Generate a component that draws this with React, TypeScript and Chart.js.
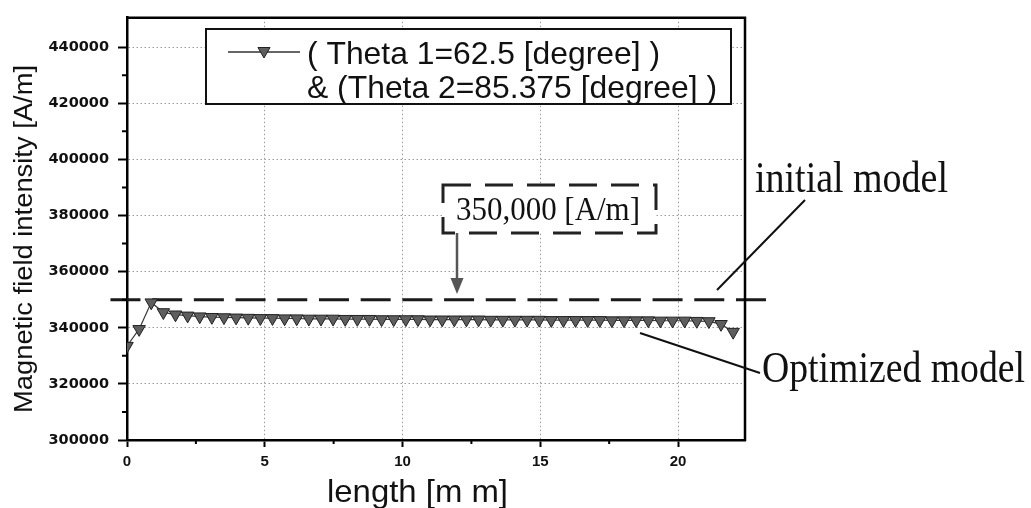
import React, { useEffect, useRef } from 'react';
import { Chart, registerables } from 'chart.js';

Chart.register(...registerables);

// ---------- data ----------
const lengthMm = [
  0, 0.44, 0.88, 1.32, 1.76, 2.2, 2.64, 3.08, 3.52, 3.96,
  4.4, 4.84, 5.28, 5.72, 6.16, 6.6, 7.04, 7.48, 7.92, 8.36,
  8.8, 9.24, 9.68, 10.12, 10.56, 11.0, 11.44, 11.88, 12.32, 12.76,
  13.2, 13.64, 14.08, 14.52, 14.96, 15.4, 15.84, 16.28, 16.72, 17.16,
  17.6, 18.04, 18.48, 18.92, 19.36, 19.8, 20.24, 20.68, 21.12, 21.56,
  22.0,
];

const fieldIntensity = [
  333500, 339500, 349000, 345500, 344700, 344300, 344000, 343800, 343700, 343600,
  343500, 343400, 343400, 343300, 343300, 343200, 343200, 343200, 343100, 343100,
  343100, 343000, 343000, 343000, 343000, 342900, 342900, 342900, 342900, 342900,
  342800, 342800, 342800, 342800, 342800, 342700, 342700, 342700, 342700, 342700,
  342600, 342600, 342600, 342600, 342500, 342500, 342500, 342400, 342300, 341300,
  338500,
];

const initialModelX = [-0.6, 23.2];
const initialModelLevel = 350000;

const xTicks = [0, 5, 10, 15, 20];
const xMinorTicks = [2.5, 7.5, 12.5, 17.5];
const yTicks = [300000, 320000, 340000, 360000, 380000, 400000, 420000, 440000];
const yMinorTicks = [310000, 330000, 350000, 370000, 390000, 410000, 430000];

const legendLine1 = '( Theta 1=62.5 [degree] )';
const legendLine2 = '& (Theta 2=85.375 [degree] )';
const xTitle = 'length [m m]';
const yTitle = 'Magnetic field intensity [A/m]';
const levelLabel = '350,000 [A/m]';
const initialLabel = 'initial model';
const optimizedLabel = 'Optimized model';

// ---------- helpers ----------
function fitText(
  ctx: CanvasRenderingContext2D,
  text: string,
  x: number,
  y: number,
  font: string,
  width: number,
  rotate = 0,
  align: CanvasTextAlign = 'left'
) {
  ctx.save();
  ctx.font = font;
  const w = ctx.measureText(text).width;
  ctx.translate(x, y);
  if (rotate) ctx.rotate(rotate);
  ctx.scale(width / w, 1);
  ctx.textAlign = align;
  ctx.textBaseline = 'alphabetic';
  ctx.fillStyle = '#111';
  ctx.fillText(text, 0, 0);
  ctx.restore();
}

function downTriangle(ctx: CanvasRenderingContext2D, x: number, y: number, r: number) {
  ctx.beginPath();
  ctx.moveTo(x, y + r);
  ctx.lineTo(x - r * Math.sin(Math.PI / 3), y - r / 2);
  ctx.lineTo(x + r * Math.sin(Math.PI / 3), y - r / 2);
  ctx.closePath();
  ctx.fillStyle = '#5e5e5e';
  ctx.fill();
  ctx.lineWidth = 1;
  ctx.strokeStyle = '#222';
  ctx.stroke();
}

const decor = {
  id: 'decor',
  beforeDraw(chart: any) {
    const ctx = chart.ctx as CanvasRenderingContext2D;
    ctx.save();
    ctx.fillStyle = '#fff';
    ctx.fillRect(0, 0, chart.width, chart.height);
    ctx.restore();
  },
  afterDraw(chart: any) {
    const ctx = chart.ctx as CanvasRenderingContext2D;
    const { left, right, top, bottom } = chart.chartArea;
    const xs = chart.scales.x;
    const ys = chart.scales.y;

    ctx.save();
    // frame: top and right
    ctx.strokeStyle = '#000';
    ctx.lineWidth = 2.5;
    ctx.beginPath();
    ctx.moveTo(left - 1, top);
    ctx.lineTo(right, top);
    ctx.lineTo(right, bottom + 1);
    ctx.stroke();

    // minor ticks
    ctx.lineWidth = 2;
    ctx.beginPath();
    yMinorTicks.forEach((v) => {
      const py = ys.getPixelForValue(v);
      ctx.moveTo(left - 5, py);
      ctx.lineTo(left, py);
    });
    xMinorTicks.forEach((v) => {
      const px = xs.getPixelForValue(v);
      ctx.moveTo(px, bottom);
      ctx.lineTo(px, bottom + 4);
    });
    ctx.stroke();

    // legend box
    ctx.fillStyle = '#fff';
    ctx.fillRect(206, 29, 525, 75);
    ctx.lineWidth = 2;
    ctx.strokeStyle = '#111';
    ctx.strokeRect(206, 29, 525, 75);
    ctx.lineWidth = 1.5;
    ctx.strokeStyle = '#333';
    ctx.beginPath();
    ctx.moveTo(228, 52);
    ctx.lineTo(300, 52);
    ctx.stroke();
    downTriangle(ctx, 264, 51, 7);
    fitText(ctx, legendLine1, 307, 64, '32px "Liberation Sans", Arial, sans-serif', 353);
    fitText(ctx, legendLine2, 307, 98, '32px "Liberation Sans", Arial, sans-serif', 410);

    // 350,000 annotation box
    ctx.fillStyle = '#fff';
    ctx.fillRect(443, 185, 213, 48);
    ctx.setLineDash([28, 14]);
    ctx.lineDashOffset = 0;
    ctx.lineWidth = 3;
    ctx.strokeStyle = '#222';
    ctx.strokeRect(443, 185, 213, 48);
    ctx.setLineDash([]);
    fitText(ctx, levelLabel, 456, 220, '33px "Liberation Serif", "Times New Roman", serif', 184);

    // arrow
    ctx.strokeStyle = '#555';
    ctx.lineWidth = 2.5;
    ctx.beginPath();
    ctx.moveTo(457, 233);
    ctx.lineTo(457, 280);
    ctx.stroke();
    ctx.fillStyle = '#555';
    ctx.beginPath();
    ctx.moveTo(450.5, 278);
    ctx.lineTo(463.5, 278);
    ctx.lineTo(457, 294);
    ctx.closePath();
    ctx.fill();

    // leader lines
    ctx.strokeStyle = '#111';
    ctx.lineWidth = 2;
    ctx.beginPath();
    ctx.moveTo(717, 290);
    ctx.lineTo(805, 200);
    ctx.moveTo(640, 333);
    ctx.lineTo(760, 373);
    ctx.stroke();

    fitText(ctx, initialLabel, 755, 192, '44px "Liberation Serif", "Times New Roman", serif', 193);
    fitText(ctx, optimizedLabel, 762, 382, '44px "Liberation Serif", "Times New Roman", serif', 263);

    // axis titles
    fitText(ctx, xTitle, 327, 502, '32px "Liberation Sans", Arial, sans-serif', 181);
    fitText(ctx, yTitle, 32, 239, '25px "Liberation Sans", Arial, sans-serif', 348, -Math.PI / 2, 'center');

    ctx.restore();
  },
};

export default function App() {
  const ref = useRef<HTMLCanvasElement>(null);

  useEffect(() => {
    const canvas = ref.current;
    if (!canvas) return;
    const chart = new Chart(canvas, {
      type: 'line',
      data: {
        datasets: [
          {
            label: legendLine1 + ' ' + legendLine2,
            data: lengthMm.map((x, i) => ({ x, y: fieldIntensity[i] })),
            borderColor: '#3a3a3a',
            borderWidth: 1.2,
            pointStyle: 'triangle',
            rotation: 180,
            pointRadius: 7.2,
            pointBackgroundColor: '#5e5e5e',
            pointBorderColor: '#222',
            pointBorderWidth: 1,
            tension: 0,
          },
          {
            label: initialLabel,
            data: initialModelX.map((x) => ({ x, y: initialModelLevel })),
            borderColor: '#1a1a1a',
            borderWidth: 3,
            borderDash: [30, 11.7],
            pointRadius: 0,
            clip: false,
          },
        ],
      } as any,
      options: {
        responsive: false,
        animation: false,
        layout: { padding: { top: 15, right: 286, left: 0, bottom: 0 } },
        plugins: {
          legend: { display: false },
          tooltip: { enabled: false },
        },
        scales: {
          x: {
            type: 'linear',
            min: 0,
            max: 22.43,
            afterBuildTicks: (s: any) => {
              s.ticks = xTicks.map((v) => ({ value: v }));
            },
            afterFit: (s: any) => {
              s.height = 68;
            },
            ticks: {
              autoSkip: false,
              maxRotation: 0,
              padding: 6,
              color: '#111',
              font: { family: '"Liberation Sans", Arial, sans-serif', size: 15, weight: 'bold' },
            },
            grid: {
              color: '#9a9a9a',
              lineWidth: 1,
              tickLength: 7,
              tickColor: '#000',
              tickWidth: 2,
              tickBorderDash: [],
            },
            border: { display: true, color: '#000', width: 2.5, dash: [1.5, 2.5] },
          },
          y: {
            type: 'linear',
            min: 300000,
            max: 450500,
            afterBuildTicks: (s: any) => {
              s.ticks = yTicks.map((v) => ({ value: v }));
            },
            afterFit: (s: any) => {
              s.width = 127;
            },
            ticks: {
              padding: 9,
              color: '#111',
              font: { family: '"DejaVu Sans", sans-serif', size: 14.5, weight: 'bold' },
              callback: (v: any) => String(v),
            },
            grid: {
              color: '#9a9a9a',
              lineWidth: 1,
              tickLength: 9,
              tickColor: '#000',
              tickWidth: 2,
              tickBorderDash: [],
            },
            border: { display: true, color: '#000', width: 2.5, dash: [1.5, 2.5] },
          },
        },
      } as any,
      plugins: [decor],
    });
    return () => chart.destroy();
  }, []);

  return (
    <div style={{ position: 'fixed', left: 0, top: 0, width: 1031, height: 508, background: '#fff' }}>
      <canvas ref={ref} width={1031} height={508} style={{ display: 'block', width: 1031, height: 508 }} />
    </div>
  );
}
